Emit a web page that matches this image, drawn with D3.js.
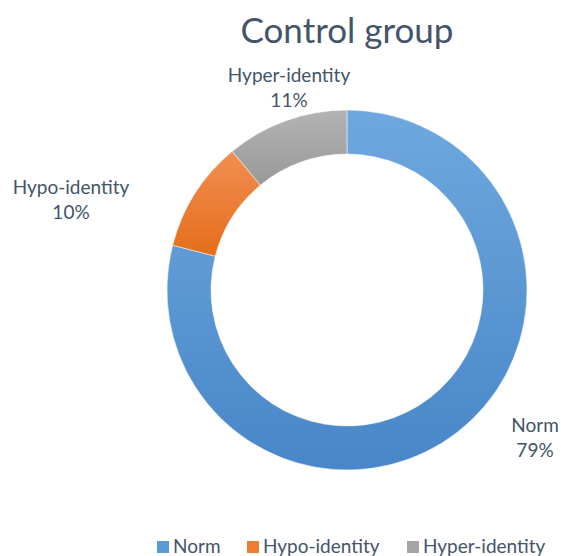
<!DOCTYPE html>
<html>
<head>
<meta charset="utf-8">
<script src="https://cdn.jsdelivr.net/npm/d3@7"></script>
<style>
  body { margin: 0; background: #fff; }
  svg { display: block; }
</style>
</head>
<body>
<div id="chart"></div>
<script>
// data
var categories = ["Norm", "Hypo-identity", "Hyper-identity"];
var values = [79, 10, 11];
var labels = ["79%", "10%", "11%"];
var colorsTop = ["#6fa8de", "#f28e52", "#b3b3b3"];
var colorsBottom = ["#4886c8", "#e46e1b", "#999999"];
var legendColors = ["#5b9bd5", "#ed7d31", "#a5a5a5"];

var width = 561, height = 556;
var cx = 347, cy = 290, outerR = 180, innerR = 136;
var textColor = "#44546a";
var font = "Lato, 'Open Sans', sans-serif";

var svg = d3.select("#chart").append("svg")
    .attr("width", width)
    .attr("height", height);

var defs = svg.append("defs");
categories.forEach(function (c, i) {
  var g = defs.append("linearGradient")
      .attr("id", "grad" + i)
      .attr("x1", 0).attr("y1", 0)
      .attr("x2", 0).attr("y2", 1);
  g.append("stop").attr("offset", "0%").attr("stop-color", colorsTop[i]);
  g.append("stop").attr("offset", "100%").attr("stop-color", colorsBottom[i]);
});

// title
svg.append("text")
    .attr("x", 347)
    .attr("y", 43)
    .attr("text-anchor", "middle")
    .attr("font-family", font)
    .attr("font-size", 35)
    .attr("fill", textColor)
    .text("Control group");

var pie = d3.pie().sort(null).value(function (d) { return d; });
var arc = d3.arc().innerRadius(innerR).outerRadius(outerR);
var arcs = pie(values);

var g = svg.append("g").attr("transform", "translate(" + cx + "," + cy + ")");

g.selectAll("path.slice")
    .data(arcs)
  .enter().append("path")
    .attr("class", "slice")
    .attr("d", arc)
    .attr("fill", function (d, i) { return "url(#grad" + i + ")"; })
    .attr("stroke", "#fff")
    .attr("stroke-width", 0.5);

// data labels outside the ring
var labelPos = [
  { x: 535, y: 432 },
  { x: 71, y: 194 },
  { x: 289, y: 82 }
];
var lab = svg.selectAll(".lbl")
    .data(arcs)
  .enter().append("text")
    .attr("class", "lbl")
    .attr("text-anchor", "middle")
    .attr("font-family", font)
    .attr("font-size", 19)
    .attr("fill", textColor);
lab.append("tspan")
    .attr("x", function (d, i) { return labelPos[i].x; })
    .attr("y", function (d, i) { return labelPos[i].y; })
    .text(function (d, i) { return categories[i]; });
lab.append("tspan")
    .attr("x", function (d, i) { return labelPos[i].x; })
    .attr("y", function (d, i) { return labelPos[i].y + 25; })
    .text(function (d, i) { return labels[i]; });

// legend
var legendX = [157, 247, 407];
var legend = svg.selectAll(".legend")
    .data(categories)
  .enter().append("g")
    .attr("class", "legend")
    .attr("transform", function (d, i) { return "translate(" + legendX[i] + ",541)"; });

legend.append("rect")
    .attr("width", 12)
    .attr("height", 12)
    .attr("fill", function (d, i) { return legendColors[i]; });

legend.append("text")
    .attr("x", 16)
    .attr("y", 12)
    .attr("font-family", font)
    .attr("font-size", 19)
    .attr("fill", textColor)
    .text(function (d) { return d; });
</script>
</body>
</html>
